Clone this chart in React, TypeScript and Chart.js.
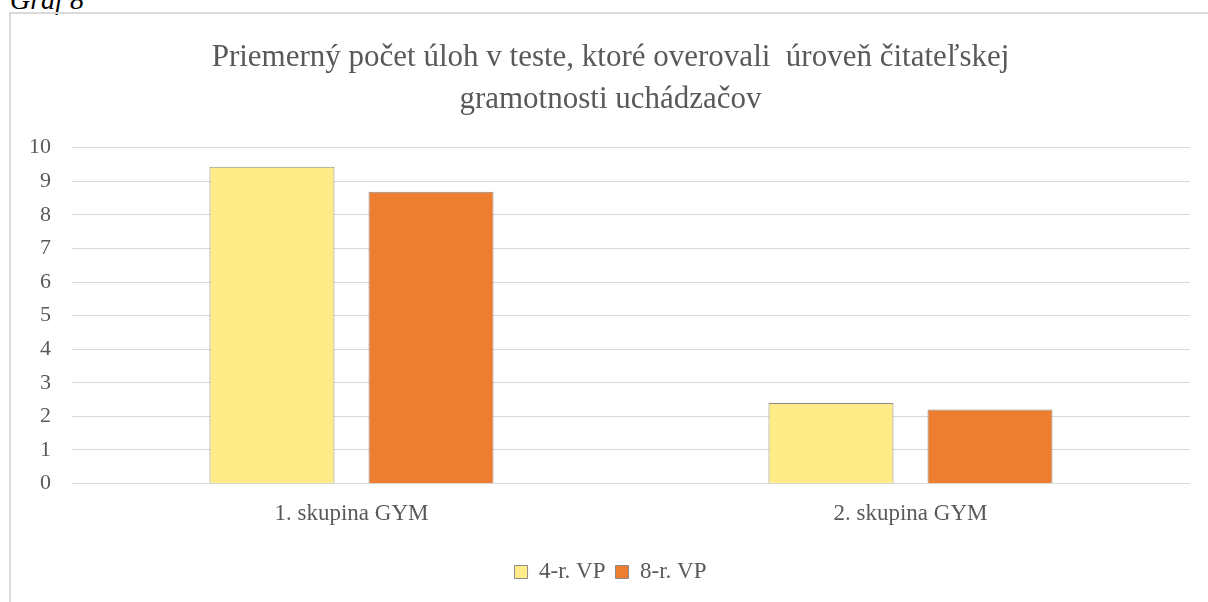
import React, { useEffect, useRef } from "react";
import { Chart, registerables } from "chart.js";

Chart.register(...registerables);

const categories = ["1. skupina GYM", "2. skupina GYM"];
const seriesLabels = ["4-r. VP", "8-r. VP"];
const series4r = [9.43, 2.4];
const series8r = [8.69, 2.2];
const titleLines = [
  "Priemerný počet úloh v teste, ktoré overovali  úroveň čitateľskej",
  "gramotnosti uchádzačov",
];
const yMin = 0;
const yMax = 10;
const yStep = 1;

const FONT = "'Liberation Serif', 'Times New Roman', serif";
const TEXT = "#595959";

export default function App() {
  const ref = useRef<HTMLCanvasElement | null>(null);

  useEffect(() => {
    if (!ref.current) return;
    const chart = new Chart(ref.current, {
      type: "bar",
      data: {
        labels: categories,
        datasets: [
          {
            label: seriesLabels[0],
            data: series4r,
            backgroundColor: "#FFEB88",
            borderColor: "#8C8C8C",
            borderWidth: 1,
            categoryPercentage: 0.569,
            barPercentage: 0.786,
          },
          {
            label: seriesLabels[1],
            data: series8r,
            backgroundColor: "#ED7D31",
            borderColor: "#8C8C8C",
            borderWidth: 1,
            categoryPercentage: 0.569,
            barPercentage: 0.786,
          },
        ],
      },
      options: {
        animation: false,
        responsive: false,
        maintainAspectRatio: false,
        layout: { padding: { left: 31, right: 18, top: 0, bottom: 8.5 } },
        plugins: {
          title: {
            display: true,
            text: titleLines,
            color: TEXT,
            font: { family: FONT, size: 31, weight: "normal", lineHeight: 42 / 31 },
            padding: { top: 37, bottom: 26.7 },
          },
          legend: {
            display: true,
            position: "bottom",
            labels: {
              boxWidth: 13,
              boxHeight: 13,
              padding: 10,
              color: TEXT,
              font: { family: FONT, size: 23 },
            },
          },
          tooltip: { enabled: false },
        },
        scales: {
          x: {
            grid: { display: false, drawTicks: false },
            border: { display: false },
            ticks: {
              color: TEXT,
              padding: 17,
              font: { family: FONT, size: 23 },
            },
            afterFit: (s: any) => {
              s.height = 67;
            },
          },
          y: {
            min: yMin,
            max: yMax,
            ticks: {
              stepSize: yStep,
              color: TEXT,
              padding: 21,
              font: { family: FONT, size: 22 },
            },
            grid: { color: "#D9D9D9", lineWidth: 1, drawTicks: false },
            border: { display: false },
            afterFit: (s: any) => {
              s.width = 41;
            },
          },
        },
      },
    });
    return () => chart.destroy();
  }, []);

  return (
    <div
      style={{
        position: "fixed",
        left: 0,
        top: 0,
        width: 1208,
        height: 602,
        overflow: "hidden",
        background: "#fff",
      }}
    >
      <span
        style={{
          position: "absolute",
          left: 10,
          top: -14,
          fontFamily: FONT,
          fontStyle: "italic",
          fontSize: 28,
          lineHeight: "28px",
          color: "#000",
          whiteSpace: "nowrap",
        }}
      >
        Graf 8
      </span>
      <div
        style={{
          position: "absolute",
          left: 9,
          top: 12,
          width: 1240,
          height: 640,
          border: "2px solid #D9D9D9",
          boxSizing: "border-box",
        }}
      />
      <canvas
        ref={ref}
        width={1208}
        height={602}
        style={{ position: "absolute", left: 0, top: 0, width: 1208, height: 602 }}
      />
    </div>
  );
}
